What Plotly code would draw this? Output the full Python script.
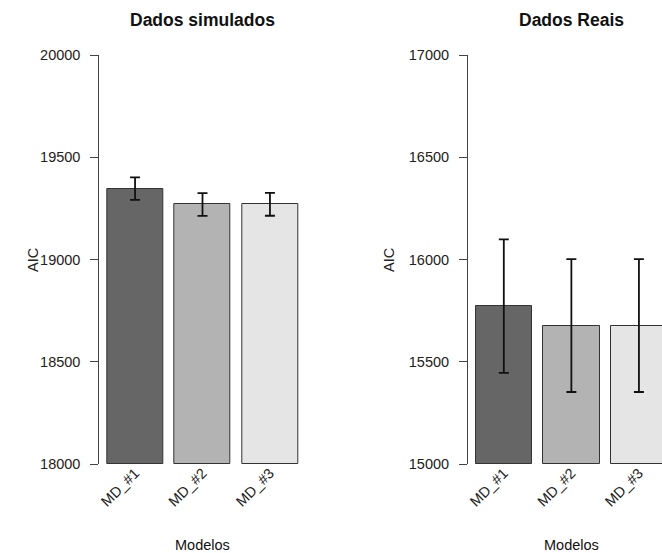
import plotly.graph_objects as go

categories = ["MD_#1", "MD_#2", "MD_#3"]
sim_mean = [19347, 19269, 19270]
sim_err = [55, 56, 56]
real_mean = [15772, 15677, 15677]
real_err = [326, 325, 325]
sim_ticks = [18000, 18500, 19000, 19500, 20000]
real_ticks = [15000, 15500, 16000, 16500, 17000]
bar_colors = ["#666666", "#b3b3b3", "#e5e5e5"]

# R barplot positions: width 1, space 0.2
xpos = [0.7, 1.9, 3.1]

W, H = 662, 553
FONT = "Liberation Sans, Arial, sans-serif"

fig = go.Figure()
fig.add_trace(go.Bar(x=xpos, y=[m - sim_ticks[0] for m in sim_mean], base=sim_ticks[0], width=1.0,
                     marker=dict(color=bar_colors, line=dict(color="#333333", width=1)),
                     error_y=dict(type="data", array=sim_err, color="#111111", thickness=1.8, width=5),
                     xaxis="x", yaxis="y", showlegend=False))
fig.add_trace(go.Bar(x=xpos, y=[m - real_ticks[0] for m in real_mean], base=real_ticks[0], width=1.0,
                     marker=dict(color=bar_colors, line=dict(color="#333333", width=1)),
                     error_y=dict(type="data", array=real_err, color="#111111", thickness=1.8, width=5),
                     xaxis="x2", yaxis="y2", showlegend=False))

def px_x(p):
    return p / W

def px_y(p):
    return 1 - p / H

ydom = [px_y(464), px_y(55)]
axis_common = dict(tickfont=dict(family=FONT, size=14.5, color="#222222"))

fig.update_layout(
    width=W, height=H, margin=dict(l=0, r=0, t=0, b=0, autoexpand=False),
    plot_bgcolor="white", paper_bgcolor="white", bargap=0,
    xaxis=dict(domain=[px_x(99.3), px_x(305.7)], range=[0.064, 3.736],
               tickvals=xpos, ticktext=categories, tickangle=-45, ticks="",
               showline=False, showgrid=False, zeroline=False, ticklabelstandoff=-3,
               **axis_common),
    yaxis=dict(domain=ydom, range=[sim_ticks[0], sim_ticks[-1]], tickvals=sim_ticks,
               ticktext=[str(t) for t in sim_ticks],
               ticks="outside", ticklen=8, tickcolor="#444444", showline=True, linecolor="#444444",
               linewidth=1, showgrid=False, zeroline=False, ticklabelstandoff=7, **axis_common),
    xaxis2=dict(domain=[px_x(468), 1.0], range=[0.064, 0.064 + (662 - 468) / 56.3],
                tickvals=xpos, ticktext=categories, tickangle=-45, ticks="",
                showline=False, showgrid=False, zeroline=False, ticklabelstandoff=-3,
                **axis_common),
    yaxis2=dict(domain=ydom, range=[real_ticks[0], real_ticks[-1]], tickvals=real_ticks,
                ticktext=[str(t) for t in real_ticks],
                ticks="outside", ticklen=8, tickcolor="#444444", showline=True, linecolor="#444444",
                linewidth=1, showgrid=False, zeroline=False, ticklabelstandoff=7, anchor="x2",
                **axis_common),
)

annos = [
    dict(text="<b>Dados simulados</b>", x=px_x(202.5), y=px_y(20), size=17.5),
    dict(text="<b>Dados Reais</b>", x=px_x(571.5), y=px_y(20), size=17.5),
    dict(text="Modelos", x=px_x(202.5), y=px_y(545), size=14.5),
    dict(text="Modelos", x=px_x(571.5), y=px_y(545), size=14.5),
]
for a in annos:
    fig.add_annotation(text=a["text"], x=a["x"], y=a["y"], xref="paper", yref="paper",
                       xanchor="center", yanchor="middle", showarrow=False,
                       font=dict(family=FONT, size=a["size"], color="#111111"))
for xc in [33, 389]:
    fig.add_annotation(text="AIC", x=px_x(xc), y=px_y(260), xref="paper", yref="paper",
                       xanchor="center", yanchor="middle", showarrow=False, textangle=-90,
                       font=dict(family=FONT, size=14.5, color="#222222"))

fig.write_html("out.html")
